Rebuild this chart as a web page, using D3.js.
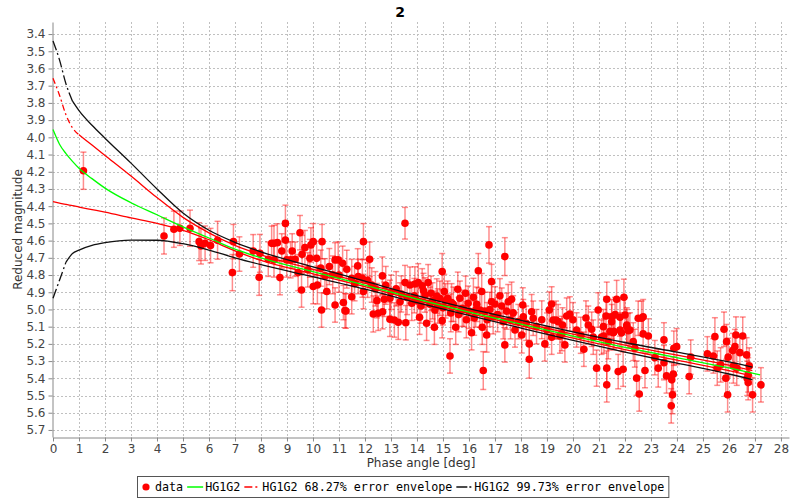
<!DOCTYPE html>
<html>
<head>
<meta charset="utf-8">
<script src="https://cdn.jsdelivr.net/npm/d3@7"></script>
<style>
  body { margin: 0; background: #fff; }
  svg { display: block; }
</style>
</head>
<body>
<div id="container"></div>
<script>
// observations: [phase angle (deg), reduced magnitude, 1-sigma error]
let dataPoints = [
  [1.17,4.194,0.108],[4.27,4.573,0.105],[4.65,4.534,0.105],[4.88,4.528,0.1],[5.27,4.528,0.105],
  [5.62,4.606,0.11],[5.69,4.631,0.105],[5.85,4.615,0.1],[6.06,4.629,0.1],[6.33,4.598,0.11],
  [6.90,4.786,0.105],[6.94,4.606,0.1],[7.17,4.678,0.1],[7.70,4.660,0.095],[7.93,4.813,0.105],
  [7.96,4.674,0.11],[8.41,4.616,0.1],[8.50,4.616,0.105],[8.63,4.612,0.11],[8.28,4.708,0.1],
  [8.50,4.712,0.1],[8.73,4.815,0.1],[8.94,4.500,0.106],[8.94,4.597,0.11],[8.99,4.712,0.1],
  [9.14,4.712,0.105],[9.31,4.708,0.1],[9.50,4.554,0.1],[9.58,4.680,0.11],[9.56,4.887,0.1],
  [9.43,4.786,0.105],[9.69,4.641,0.1],[9.88,4.703,0.11],[9.92,4.625,0.1],[10.01,4.606,0.105],
  [10.14,4.703,0.1],[10.01,4.867,0.1],[10.17,4.858,0.11],[10.35,4.606,0.1],[10.33,5.003,0.1],
  [10.53,4.896,0.1],[10.63,4.751,0.105],[10.46,4.805,0.1],[10.76,4.799,0.11],[10.85,4.712,0.1],
  [10.85,4.974,0.1],[10.97,4.712,0.105],[11.14,4.732,0.1],[11.30,4.766,0.11],[11.17,4.960,0.1],
  [11.27,5.009,0.1],[11.23,5.007,0.1],[11.49,4.926,0.1],[11.49,4.819,0.11],[11.72,4.747,0.1],
  [11.94,4.606,0.105],[11.74,4.809,0.1],[11.90,4.819,0.11],[11.94,4.896,0.1],[12.18,4.708,0.1],
  [12.26,4.858,0.1],[12.32,5.026,0.105],[12.46,4.949,0.1],[12.51,5.022,0.1],[12.67,4.805,0.11],
  [12.68,5.013,0.1],[12.74,4.941,0.1],[12.96,4.935,0.105],[12.96,5.057,0.1],[13.13,5.061,0.1],
  [13.28,5.074,0.1],[13.35,4.955,0.11],[13.54,4.499,0.092],[13.54,4.844,0.1],[13.57,5.077,0.1],
  [13.73,4.858,0.105],[13.80,4.964,0.1],[13.92,4.852,0.1],[14.05,4.844,0.11],[14.10,5.045,0.1],
  [14.20,4.863,0.1],[14.31,4.916,0.1],[14.37,5.080,0.1],[14.43,4.844,0.105],[14.54,4.906,0.1],
  [14.67,5.103,0.1],[14.69,5.003,0.11],[14.76,4.922,0.1],[14.88,4.935,0.1],[14.97,4.780,0.105],
  [14.97,5.065,0.1],[15.05,4.896,0.1],[15.18,4.935,0.1],[15.27,5.270,0.1],[15.33,4.960,0.11],
  [15.49,5.103,0.1],[15.57,4.883,0.1],[15.65,4.935,0.1],[15.74,4.993,0.105],[15.87,4.906,0.1],
  [15.97,4.964,0.1],[16.10,5.135,0.1],[16.17,4.929,0.11],[16.26,5.003,0.1],[16.36,4.775,0.1],
  [16.42,5.003,0.1],[16.49,4.896,0.105],[16.51,5.103,0.1],[16.55,5.355,0.11],[16.68,5.148,0.1],
  [16.77,4.625,0.106],[16.87,4.838,0.1],[16.87,4.955,0.1],[16.93,5.042,0.1],[17.38,4.693,0.11],
  [17.19,4.921,0.1],[17.00,4.968,0.1],[17.26,4.980,0.105],[17.32,5.071,0.1],[17.38,5.206,0.1],
  [17.51,4.955,0.1],[17.60,5.061,0.11],[17.64,4.941,0.1],[17.77,5.119,0.1],[17.90,5.071,0.1],
  [18.03,5.148,0.105],[18.07,4.974,0.1],[18.09,5.042,0.1],[18.32,5.200,0.1],[18.32,5.289,0.11],
  [18.41,5.013,0.1],[18.47,5.051,0.1],[18.92,5.200,0.1],[19.09,5.003,0.105],[19.18,4.968,0.1],
  [19.18,5.161,0.1],[19.24,5.061,0.1],[19.35,5.061,0.11],[19.43,5.071,0.1],[19.50,5.154,0.1],
  [19.57,5.140,0.1],[19.69,5.206,0.1],[19.76,5.038,0.105],[19.88,5.026,0.1],[20.14,5.119,0.1],
  [20.42,5.231,0.1],[20.59,5.090,0.11],[20.72,5.115,0.1],[20.78,5.161,0.1],[20.91,5.341,0.105],
  [20.97,5.003,0.1],[21.10,5.161,0.1],[21.19,5.154,0.1],[21.27,5.038,0.11],[21.30,4.941,0.1],
  [21.30,5.341,0.1],[21.30,5.438,0.1],[21.36,5.187,0.1],[21.42,5.129,0.105],[21.49,5.042,0.1],
  [21.58,5.129,0.1],[21.68,4.941,0.11],[21.74,5.361,0.1],[21.81,5.119,0.1],[21.93,5.347,0.1],
  [21.96,4.929,0.105],[22.00,5.032,0.1],[22.07,5.090,0.1],[22.19,5.119,0.1],[22.32,5.187,0.11],
  [22.45,5.399,0.1],[22.51,5.051,0.1],[22.55,5.491,0.1],[21.62,5.030,0.1],[21.81,5.045,0.11],
  [21.49,5.071,0.1],[21.17,5.100,0.1],[21.55,5.135,0.1],[21.87,5.135,0.105],[22.07,5.100,0.1],
  [22.13,5.123,0.1],[22.38,5.225,0.11],[22.77,5.355,0.1],[22.64,5.051,0.1],[22.70,5.042,0.1],
  [22.70,5.142,0.105],[22.90,5.154,0.1],[23.15,5.280,0.1],[23.28,5.341,0.11],[23.50,5.177,0.1],
  [23.50,5.309,0.1],[23.60,5.386,0.1],[23.80,5.409,0.1],[23.83,5.496,0.11],[23.78,5.560,0.1],
  [23.86,5.376,0.1],[23.88,5.225,0.1],[23.99,5.216,0.105],[24.47,5.390,0.1],[24.53,5.277,0.1],
  [25.17,5.258,0.1],[25.40,5.270,0.1],[25.46,5.158,0.11],[25.55,5.341,0.1],[25.68,5.322,0.1],
  [25.81,5.115,0.1],[25.88,5.399,0.105],[25.91,5.187,0.1],[25.95,5.496,0.1],[25.97,5.277,0.11],
  [26.14,5.239,0.1],[26.17,5.328,0.1],[26.23,5.216,0.1],[26.27,5.148,0.105],[26.30,5.341,0.1],
  [26.42,5.251,0.1],[26.53,5.154,0.11],[26.68,5.264,0.1],[26.74,5.380,0.1],[26.70,5.400,0.1],
  [26.78,5.328,0.105],[26.74,5.425,0.1],[26.91,5.496,0.1],[27.23,5.438,0.1],
  [13.00,4.900,0.1],[13.20,4.880,0.1],[13.40,4.910,0.105],[13.62,4.930,0.1],[13.90,4.920,0.1],
  [14.00,4.950,0.11],[14.15,4.980,0.1],[14.25,4.890,0.1],[14.50,4.970,0.1],[14.60,4.950,0.105],
  [14.80,4.980,0.1],[15.00,4.990,0.1],[15.10,4.950,0.1],[15.30,5.020,0.11],[15.40,4.970,0.1],
  [15.60,5.030,0.1],[15.80,5.000,0.1],[15.90,5.060,0.105],[16.00,5.010,0.1],[16.20,5.050,0.1],
  [16.30,4.970,0.1],[16.60,5.010,0.11],[16.70,5.060,0.1],[16.80,5.000,0.1],[17.10,5.030,0.1],
  [17.45,5.010,0.105],[17.70,5.020,0.1],[18.20,5.080,0.1],[18.60,5.100,0.1],[18.80,5.060,0.11],
  [19.00,5.120,0.1],[19.60,5.090,0.1],[20.00,5.060,0.1],[20.30,5.150,0.105],[20.50,5.050,0.1],
  [12.10,4.830,0.1],[12.40,4.880,0.1],[12.80,4.860,0.11],[11.60,4.850,0.1],[11.00,4.800,0.1],
  [10.30,4.760,0.105],[9.80,4.770,0.1],[9.20,4.660,0.1],[8.80,4.660,0.1]
];

// HG1G2 best fit
let fitPhase = [0,0.25,0.5,0.75,1,1.5,2,3,4,5,6,7,8,10,12,14,16,18,20,22,24,26,27.2];
let fitMag   = [3.955,4.04,4.095,4.14,4.18,4.24,4.295,4.38,4.45,4.52,4.585,4.65,4.70,4.78,4.858,4.94,5.015,5.085,5.155,5.22,5.28,5.34,5.38];

// error envelopes (upper = brighter edge)
let envPhase    = [0,0.25,0.5,0.75,1,1.5,2,3,4,5,6,7,8,10,12,14,16,18,20,22,24,26,26.9];
let env68Upper  = [3.657,3.755,3.87,3.945,3.985,4.045,4.105,4.225,4.35,4.465,4.555,4.628,4.683,4.767,4.848,4.932,5.007,5.075,5.143,5.207,5.265,5.324,5.355];
let env68Lower  = [4.374,4.382,4.39,4.397,4.405,4.42,4.435,4.468,4.50,4.54,4.595,4.66,4.715,4.793,4.868,4.948,5.023,5.095,5.167,5.233,5.295,5.356,5.388];
let env997Upper = [3.44,3.55,3.69,3.79,3.845,3.93,4.005,4.15,4.30,4.44,4.54,4.61,4.665,4.752,4.836,4.92,4.995,5.063,5.13,5.192,5.248,5.305,5.335];
let env997Lower = [4.935,4.83,4.725,4.675,4.655,4.628,4.612,4.597,4.598,4.618,4.655,4.70,4.74,4.81,4.882,4.96,5.035,5.108,5.18,5.248,5.312,5.375,5.408];

let xTickValues = d3.range(0, 29);
let yTickValues = [3.4,3.5,3.6,3.7,3.8,3.9,4.0,4.1,4.2,4.3,4.4,4.5,4.6,4.7,4.8,4.9,5.0,5.1,5.2,5.3,5.4,5.5,5.6,5.7];

let legendLabels = ['data', 'HG1G2', 'HG1G2 68.27% error envelope', 'HG1G2 99.73% error envelope'];

let w = 790;
let h = 501;
let plot = { left: 53, right: 789, top: 22, bottom: 437 };
let sans = 'DejaVu Sans, sans-serif';
let mono = 'DejaVu Sans Mono, monospace';

let svg = d3.select('#container')
  .append('svg')
    .attr('width', w)
    .attr('height', h)
    .style('background-color', '#fff');

let x = d3.scaleLinear().domain([0, 28.31]).range([plot.left, plot.right]);
let y = d3.scaleLinear().domain([3.33, 5.741]).range([plot.top, plot.bottom]);

// title
svg.append('text')
  .attr('x', 400).attr('y', 17)
  .attr('text-anchor', 'middle')
  .style('font-family', sans).style('font-size', '14px').style('font-weight', 'bold')
  .text('2');

// grid
let grid = svg.append('g');
grid.selectAll('.vgrid').data(xTickValues.slice(1)).enter()
  .append('line')
    .attr('x1', d => Math.round(x(d)) + 0.5).attr('x2', d => Math.round(x(d)) + 0.5)
    .attr('y1', plot.top).attr('y2', plot.bottom)
    .attr('stroke', '#c0c0c0').attr('stroke-dasharray', '2,2');
grid.selectAll('.hgrid').data(yTickValues).enter()
  .append('line')
    .attr('x1', plot.left).attr('x2', plot.right)
    .attr('y1', d => Math.round(y(d)) + 0.5).attr('y2', d => Math.round(y(d)) + 0.5)
    .attr('stroke', '#c0c0c0').attr('stroke-dasharray', '2,2');

// axes
let xAxis = svg.append('g')
  .attr('transform', 'translate(0,' + (plot.bottom + 0.5) + ')')
  .call(d3.axisBottom(x).tickValues(xTickValues).tickFormat(d3.format('d')).tickSize(4).tickSizeOuter(0).tickPadding(3));
let yAxis = svg.append('g')
  .attr('transform', 'translate(' + (plot.left - 0.5) + ',0)')
  .call(d3.axisLeft(y).tickValues(yTickValues).tickFormat(d3.format('.1f')).tickSize(4).tickSizeOuter(0).tickPadding(3));

[xAxis, yAxis].forEach(a => {
  a.select('.domain').attr('stroke', '#888');
  a.selectAll('.tick line').attr('stroke', '#888');
  a.selectAll('.tick text').attr('fill', '#444').style('font-family', sans).style('font-size', '12px');
});

// axis labels
svg.append('text')
  .attr('x', (plot.left + plot.right) / 2).attr('y', 467)
  .attr('text-anchor', 'middle')
  .style('font-family', sans).style('font-size', '12px').attr('fill', '#333')
  .text('Phase angle [deg]');
svg.append('text')
  .attr('transform', 'translate(22,' + ((plot.top + plot.bottom) / 2) + ') rotate(-90)')
  .attr('text-anchor', 'middle')
  .style('font-family', sans).style('font-size', '12px').attr('fill', '#333')
  .text('Reduced magnitude');

// data with error bars
let dataGroup = svg.append('g');
let points = dataGroup.selectAll('.datagroup').data(dataPoints).enter()
  .append('g').attr('class', 'datagroup');
points.append('line')
  .attr('x1', d => x(d[0])).attr('x2', d => x(d[0]))
  .attr('y1', d => y(d[1] - d[2])).attr('y2', d => y(d[1] + d[2]))
  .attr('stroke', 'rgba(255,0,0,0.45)').attr('stroke-width', 1.5);
points.append('line')
  .attr('x1', d => x(d[0]) - 3).attr('x2', d => x(d[0]) + 3)
  .attr('y1', d => y(d[1] - d[2])).attr('y2', d => y(d[1] - d[2]))
  .attr('stroke', 'rgba(255,0,0,0.45)').attr('stroke-width', 1.5);
points.append('line')
  .attr('x1', d => x(d[0]) - 3).attr('x2', d => x(d[0]) + 3)
  .attr('y1', d => y(d[1] + d[2])).attr('y2', d => y(d[1] + d[2]))
  .attr('stroke', 'rgba(255,0,0,0.45)').attr('stroke-width', 1.5);
points.append('circle')
  .attr('cx', d => x(d[0])).attr('cy', d => y(d[1]))
  .attr('r', 3.8)
  .attr('fill', '#ff0000');

// curves: steep start drawn dash-dot, rest solid
let line = d3.line().x(d => x(d[0])).y(d => y(d[1])).curve(d3.curveMonotoneX);

function drawCurve(xs, ys, color, dash, dashUntil) {
  let pts = xs.map((v, i) => [v, ys[i]]);
  let head = pts.filter(p => p[0] <= dashUntil);
  let tail = pts.filter(p => p[0] >= dashUntil);
  if (head.length > 1) {
    svg.append('path').attr('d', line(head))
      .attr('fill', 'none').attr('stroke', color).attr('stroke-width', 1.3)
      .attr('stroke-dasharray', dash);
  }
  svg.append('path').attr('d', line(tail))
    .attr('fill', 'none').attr('stroke', color).attr('stroke-width', 1.3);
}

drawCurve(envPhase, env997Lower, '#111', '10,3,2,3', 0.5);
drawCurve(envPhase, env997Upper, '#111', '10,3,2,3', 0.75);
drawCurve(envPhase, env68Lower, '#ff0000', '6,3,2,3', 0);
drawCurve(envPhase, env68Upper, '#ff0000', '6,3,2,3', 1.0);
drawCurve(fitPhase, fitMag, '#00ff00', null, 0);

// legend
let legend = svg.append('g');
let lx = 137, ly = 476, lh = 21;
let box = legend.append('rect')
  .attr('x', lx + 0.5).attr('y', ly + 0.5).attr('height', lh)
  .attr('fill', '#fff').attr('stroke', '#555');
let cursor = lx + 5;
let cy = ly + lh / 2 + 0.5;
let swatches = [
  { type: 'dot', color: '#ff0000' },
  { type: 'line', color: '#00ff00', dash: null },
  { type: 'line', color: '#ff0000', dash: '8,3,2,3' },
  { type: 'line', color: '#111', dash: '11,2,2,3' }
];
legendLabels.forEach((label, i) => {
  let s = swatches[i];
  if (s.type == 'dot') {
    legend.append('circle').attr('cx', cursor + 4).attr('cy', cy).attr('r', 3.6).attr('fill', s.color);
    cursor += 13;
  } else {
    legend.append('line')
      .attr('x1', cursor).attr('x2', cursor + 16).attr('y1', cy).attr('y2', cy)
      .attr('stroke', s.color).attr('stroke-width', 1.5)
      .attr('stroke-dasharray', s.dash);
    cursor += 18;
  }
  let t = legend.append('text')
    .attr('x', cursor).attr('y', cy + 4)
    .style('font-family', mono).style('font-size', '11.7px').attr('fill', '#000')
    .text(label);
  cursor += t.node().getComputedTextLength() + 4;
});
box.attr('width', cursor - lx);
</script>
</body>
</html>
